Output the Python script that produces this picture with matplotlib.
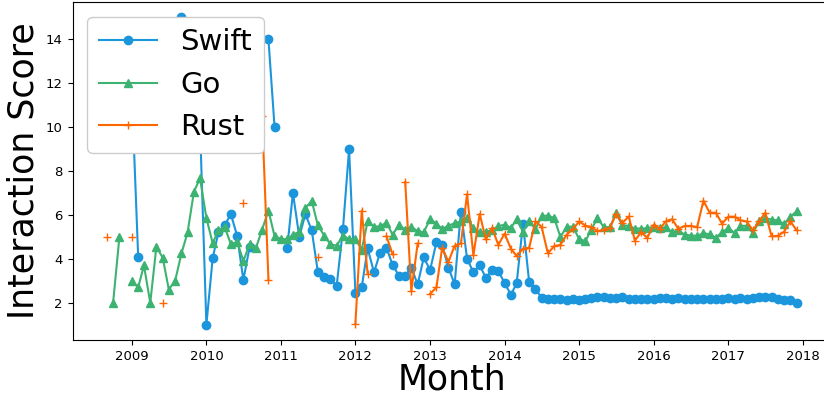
import numpy as np
import pandas as pd
import matplotlib
matplotlib.use("Agg")
import matplotlib.pyplot as plt
import matplotlib.dates as mdates

nan = np.nan

# monthly values, 2008-09 .. 2017-12
months = pd.date_range("2008-09-01", periods=112, freq="MS")

swift = [nan, nan, nan, nan, 11.5, 4.06, nan, nan, nan, nan,
         nan, nan, 15.0, nan, nan, 10.0, 1.0, 4.05, 5.2, 5.53,
         6.04, 5.03, 3.04, 4.54, nan, nan, 14.0, 10.0, nan, 4.5,
         7.0, 5.0, 6.04, 5.3, 3.41, 3.16, 3.08, 2.75, 5.36, 9.0,
         2.45, 2.7, 4.48, 3.38, 4.28, 4.5, 3.73, 3.23, 3.23, 3.6,
         2.83, 4.06, 3.49, 4.76, 4.61, 3.6, 2.83, 6.15, 4.01, 3.38,
         3.71, 3.13, 3.5, 3.46, 2.89, 2.36, 2.89, 5.6, 2.96, 2.63,
         2.22, 2.15, 2.17, 2.15, 2.14, 2.15, 2.14, 2.17, 2.2, 2.25,
         2.25, 2.22, 2.22, 2.25, 2.17, 2.16, 2.16, 2.18, 2.19, 2.2,
         2.2, 2.18, 2.2, 2.17, 2.16, 2.17, 2.19, 2.18, 2.19, 2.18,
         2.2, 2.19, 2.21, 2.19, 2.2, 2.25, 2.28, 2.25, 2.17, 2.13,
         2.1, 1.98]

go = [nan, 2.0, 5.0, nan, 3.0, 2.7, 3.7, 2.0, 4.55, 4.05,
      2.6, 3.0, 4.25, 5.2, 7.06, 7.66, 5.86, 4.7, 5.33, 5.44,
      4.66, 4.78, 3.9, 4.66, 4.5, 5.33, 6.2, 5.03, 4.91, 4.88,
      5.1, 5.23, 6.31, 6.64, 5.53, 5.06, 4.66, 4.6, 5.05, 4.9,
      4.9, 4.42, 5.71, 5.46, 5.48, 5.65, 5.1, 5.53, 5.33, 5.45,
      5.26, 5.21, 5.81, 5.6, 5.36, 5.51, 5.62, 5.71, 5.86, 5.41,
      5.21, 5.21, 5.33, 5.48, 5.56, 5.41, 5.8, 5.24, 5.71, 5.35,
      5.95, 5.97, 5.86, 5.0, 5.45, 5.47, 4.9, 4.8, 5.33, 5.85,
      5.45, 5.43, 6.08, 5.52, 5.5, 5.38, 5.38, 5.39, 5.45, 5.4,
      5.44, 5.2, 5.3, 5.1, 5.06, 5.05, 5.16, 5.12, 4.96, 5.21,
      5.4, 5.18, 5.5, 5.5, 5.18, 5.7, 5.86, 5.78, 5.75, 5.58,
      5.92, 6.16]

rust = [5.0, nan, nan, nan, 5.0, nan, nan, nan, nan, 2.0,
        nan, nan, nan, nan, nan, nan, nan, nan, nan, nan,
        nan, nan, 6.54, nan, nan, 10.5, 3.04, nan, nan, nan,
        nan, nan, nan, nan, 4.06, nan, nan, nan, nan, nan,
        1.05, 6.2, 3.3, nan, nan, 5.04, 4.2, nan, 7.5, 2.53,
        4.7, nan, 2.4, 2.7, 4.5, 3.86, 4.6, 4.7, 6.94, 4.16,
        6.04, 4.88, 5.4, 4.63, 5.15, 4.45, 4.13, 4.46, 4.5, 5.7,
        5.46, 4.25, 4.58, 4.63, 5.1, 5.35, 5.7, 5.51, 5.45, 5.26,
        5.32, 5.41, 6.04, 5.63, 5.93, 4.83, 5.21, 4.95, 5.55, 5.37,
        5.71, 5.8, 5.36, 5.5, 5.5, 5.44, 6.65, 6.1, 6.1, 5.6,
        5.92, 5.92, 5.75, 5.7, 5.3, 5.71, 6.1, 5.02, 5.05, 5.23,
        5.71, 5.3]

fig = plt.figure(figsize=(8.24, 4.01), dpi=100)
ax = fig.add_axes([72.5 / 824, 61 / 401, 758.5 / 824, 338 / 401])

ax.plot(months, swift, color="#1b95dc", marker="o", markersize=6, label="Swift")
ax.plot(months, go, color="#3cb371", marker="^", markersize=6, label="Go")
ax.plot(months, rust, color="#ff6600", marker="+", markersize=6, label="Rust")

ax.xaxis.set_major_locator(mdates.YearLocator())
ax.xaxis.set_major_formatter(mdates.DateFormatter("%Y"))
ax.set_yticks([2, 4, 6, 8, 10, 12, 14])
ax.tick_params(labelsize=9.5)

ax.set_xlabel("Month", fontsize=25, labelpad=0)
ax.set_ylabel("Interaction Score", fontsize=25)
ax.legend(loc="upper left", fontsize=21, framealpha=1)

fig.savefig("out.png", dpi=100)
